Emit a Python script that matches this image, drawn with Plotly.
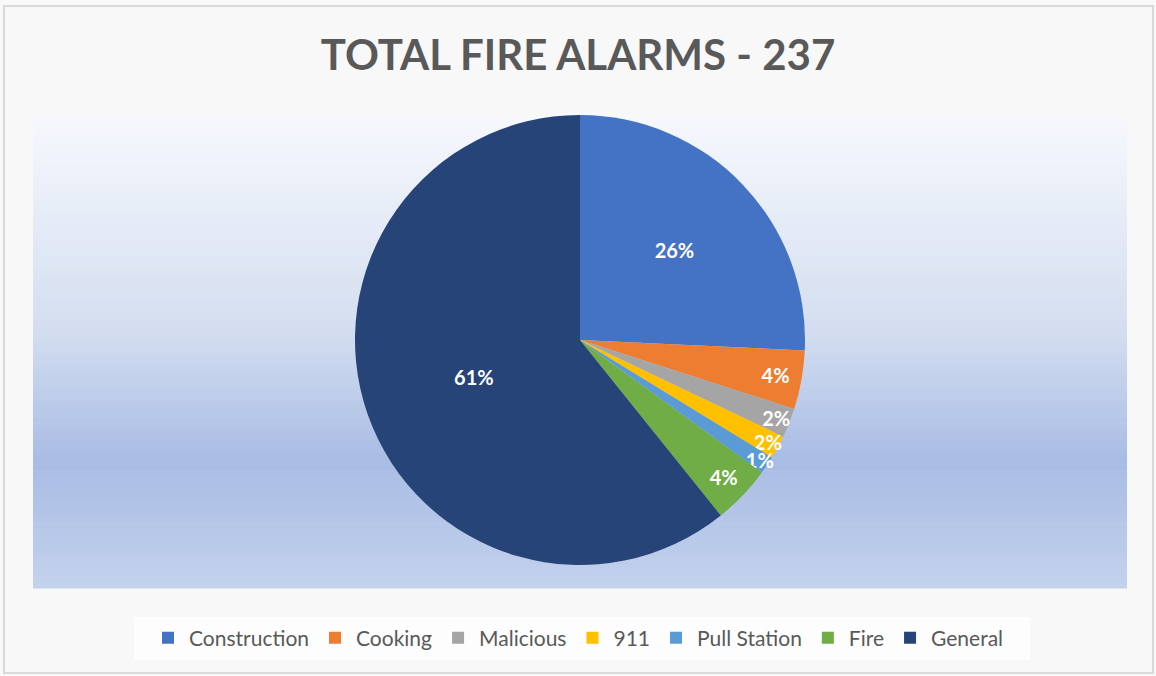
import plotly.graph_objects as go

categories = ["Construction", "Cooking", "Malicious", "911", "Pull Station", "Fire", "General"]
counts = [61, 10, 5, 4, 3, 10, 144]
colors = ["#4472C4", "#ED7D31", "#A5A5A5", "#FFC000", "#5B9BD5", "#70AD47", "#264478"]
title_text = "TOTAL FIRE ALARMS - " + str(sum(counts))

W, H = 1156, 676
R, CX, CY = 225, 580, 340

fig = go.Figure()
fig.add_trace(go.Pie(
    labels=categories,
    values=counts,
    sort=False,
    direction="clockwise",
    rotation=0,
    marker=dict(colors=colors, line=dict(width=0)),
    textinfo="percent",
    texttemplate="%{percent:.0%}",
    textposition="inside",
    insidetextorientation="horizontal",
    textfont=dict(family="Lato", size=20, color="white", weight="bold"),
    domain=dict(x=[(CX - R) / W, (CX + R) / W], y=[1 - (CY + R) / H, 1 - (CY - R) / H]),
    hoverinfo="label+value+percent",
))

# background gradient of the plot area (decorative strips)
def hex2rgb(h):
    h = h.lstrip("#")
    return tuple(int(h[i:i + 2], 16) for i in (0, 2, 4))

stops = [(0.0, "#f6f8fd"), (0.45, "#d4def0"), (0.73, "#a8bce4"), (1.0, "#c3d2ec")]
def color_at(t):
    for (t0, c0), (t1, c1) in zip(stops[:-1], stops[1:]):
        if t0 <= t <= t1:
            f = (t - t0) / (t1 - t0)
            a, b = hex2rgb(c0), hex2rgb(c1)
            return "rgb(%d,%d,%d)" % tuple(round(a[i] + (b[i] - a[i]) * f) for i in range(3))
    return stops[-1][1]

shapes = []
px0, px1, py0, py1 = 33, 1127, 117, 588
N = 80
for i in range(N):
    ya = py0 + (py1 - py0) * i / N
    yb = py0 + (py1 - py0) * (i + 1) / N + 0.6
    shapes.append(dict(type="rect", xref="paper", yref="paper", layer="below",
                       x0=px0 / W, x1=px1 / W, y0=1 - yb / H, y1=1 - ya / H,
                       fillcolor=color_at((i + 0.5) / N), line=dict(width=0)))
# legend box background and outer border
shapes.append(dict(type="rect", xref="paper", yref="paper", layer="below",
                   x0=134 / W, x1=1030 / W, y0=1 - 660 / H, y1=1 - 617 / H,
                   fillcolor="#fdfdfd", line=dict(width=0)))
shapes.append(dict(type="rect", xref="paper", yref="paper", layer="above",
                   x0=4 / W, x1=1 - 3 / W, y0=1 - 673 / H, y1=1 - 6 / H,
                   fillcolor="rgba(0,0,0,0)", line=dict(color="#d9d9d9", width=2)))

fig.update_layout(
    width=W, height=H,
    margin=dict(l=0, r=0, t=0, b=0),
    paper_bgcolor="#f8f8f8",
    plot_bgcolor="rgba(0,0,0,0)",
    shapes=shapes,
    title=dict(text=title_text, x=0.5, xanchor="center", y=1 - 55 / H, yanchor="middle",
               xref="paper", yref="paper",
               font=dict(family="Lato", size=42, color="#595959", weight="bold")),
    legend=dict(orientation="h", x=0.5, xanchor="center", y=1 - 638 / H, yanchor="middle",
                bgcolor="rgba(0,0,0,0)", font=dict(family="Lato", size=21, color="#595959"),
                traceorder="normal", itemwidth=32),
    uniformtext=dict(minsize=20, mode="show"),
)

fig.write_html("out.html", config={"displayModeBar": False},
               post_script="document.body.style.margin='0px';document.body.style.overflow='hidden';")
